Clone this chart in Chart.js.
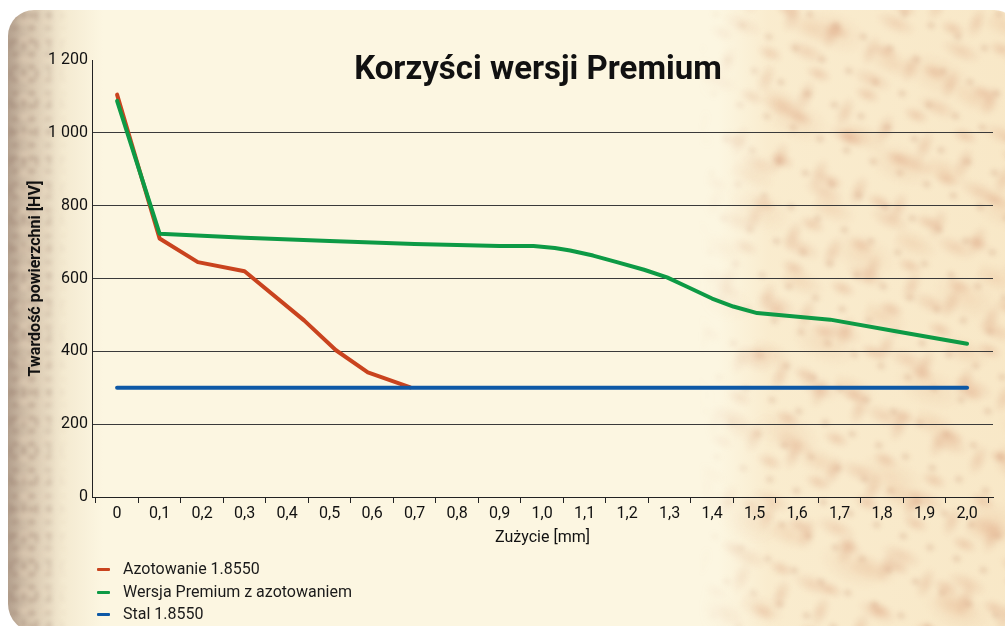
<!DOCTYPE html>
<html lang="pl">
<head>
<meta charset="utf-8">
<title>Korzyści wersji Premium</title>
<script src="https://cdn.jsdelivr.net/npm/chart.js@4.4.1/dist/chart.umd.min.js"></script>
<style>
  html, body { margin: 0; padding: 0; background: #ffffff; }
  body { width: 1005px; height: 626px; position: relative; overflow: hidden; font-family: Roboto, "DejaVu Sans", sans-serif; }
  .card {
    position: absolute; left: 8px; top: 10px; width: 1010px; height: 622px;
    border-radius: 26px 24px 0 28px; overflow: hidden;
    background-color: #fcf6e1;
    background-image:
      linear-gradient(to right, rgba(168,146,128,0.85) 0px, rgba(190,165,140,0.6) 22px, rgba(225,205,170,0.3) 55px, rgba(252,246,225,0) 95px),
      linear-gradient(to right, rgba(252,246,225,0) 710px, rgba(247,226,188,0.5) 760px, rgba(245,220,178,0.55) 1010px);
  }
  .texwrap {
    position: absolute; left: 690px; top: 0; width: 330px; height: 622px; overflow: hidden;
    -webkit-mask-image: linear-gradient(to right, transparent 0px, black 80px);
    mask-image: linear-gradient(to right, transparent 0px, black 80px);
  }
  .tex {
    position: absolute; left: -200px; top: -200px; width: 730px; height: 1020px;
    transform: rotate(23deg);
    filter: blur(2px);
    background-image:
      radial-gradient(ellipse 14px 8px at 30% 40%, rgba(215,150,115,0.34), transparent),
      radial-gradient(ellipse 22px 10px at 70% 20%, rgba(220,160,125,0.3), transparent),
      radial-gradient(ellipse 9px 17px at 50% 70%, rgba(210,145,110,0.28), transparent),
      radial-gradient(ellipse 28px 13px at 20% 80%, rgba(225,170,130,0.26), transparent),
      radial-gradient(ellipse 36px 20px at 60% 50%, rgba(225,170,130,0.2), transparent),
      radial-gradient(ellipse 6px 5px at 40% 60%, rgba(190,130,100,0.3), transparent);
    background-size: 53px 47px, 71px 61px, 43px 67px, 89px 79px, 113px 97px, 29px 37px;
    background-position: 0 0, 17px 29px, 31px 11px, 7px 41px, 45px 13px, 11px 5px;
  }
  .ltex {
    position: absolute; left: 0; top: 0; width: 60px; height: 622px;
    filter: blur(1.5px);
    background-image:
      radial-gradient(ellipse 6px 5px at 40% 40%, rgba(150,120,105,0.3), transparent),
      radial-gradient(ellipse 9px 6px at 70% 60%, rgba(235,215,190,0.4), transparent),
      radial-gradient(ellipse 5px 8px at 20% 20%, rgba(140,110,95,0.25), transparent);
    background-size: 17px 13px, 23px 19px, 13px 29px;
    -webkit-mask-image: linear-gradient(to right, black 0px, black 25px, transparent 60px);
    mask-image: linear-gradient(to right, black 0px, black 25px, transparent 60px);
  }
  .title {
    position: absolute; left: 238px; width: 600px; top: 51px;
    text-align: center; font-size: 33px; line-height: 1; font-weight: bold; color: #111;
  }
  #wrap { position: absolute; left: 0; top: 0; width: 1005px; height: 626px; }
  .legend { position: absolute; left: 97px; top: 558px; font-size: 16px; color: #1a1a1a; }
  .legend div { height: 22.5px; line-height: 22.5px; position: relative; padding-left: 26px; white-space: nowrap; }
  .legend span { position: absolute; left: 0; top: 10px; width: 13px; height: 3px; border-radius: 1px; }
</style>
</head>
<body>
<div class="card"><div class="ltex"></div><div class="texwrap"><div class="tex"></div></div></div>
<div id="wrap"><canvas id="chart"></canvas></div>
<div class="title">Korzyści wersji Premium</div>
<div class="legend" id="legend"></div>
<script>
// wear [mm] on the x axis, surface hardness [HV] on the y axis
const xTickValues = [0, 0.1, 0.2, 0.3, 0.4, 0.5, 0.6, 0.7, 0.8, 0.9, 1.0, 1.1, 1.2, 1.3, 1.4, 1.5, 1.6, 1.7, 1.8, 1.9, 2.0];
const xTickLabels = ["0", "0,1", "0,2", "0,3", "0,4", "0,5", "0,6", "0,7", "0,8", "0,9", "1,0",
  "1,1", "1,2", "1,3", "1,4", "1,5", "1,6", "1,7", "1,8", "1,9", "2,0"];
const yTickValues = [0, 200, 400, 600, 800, 1000, 1200];
const yTickLabels = ["0", "200", "400", "600", "800", "1 000", "1 200"];

const seriesNames = ["Azotowanie 1.8550", "Wersja Premium z azotowaniem", "Stal 1.8550"];
const seriesColors = ["#c9431e", "#0d9a45", "#0d58a6"];

const nitridedX = [0, 0.1, 0.19, 0.3, 0.44, 0.515, 0.59, 0.69];
const nitridedY = [1105, 710, 645, 620, 485, 403, 342, 301];

const premiumX = [0, 0.1, 0.3, 0.5, 0.7, 0.9, 0.98, 1.03, 1.066, 1.12, 1.176, 1.24, 1.294, 1.34, 1.4, 1.45, 1.506, 1.678, 1.842, 2.0];
const premiumY = [1088, 723, 712, 703, 695, 689, 689, 684, 677, 663, 645, 624, 603, 578, 545, 523, 505, 487, 453, 421];

const steelX = [0, 2.0];
const steelY = [300, 300];

function toPoints(xs, ys) {
  return xs.map((x, i) => ({ x: x, y: ys[i] }));
}

function initLegend() {
  const el = document.getElementById("legend");
  el.innerHTML = seriesNames
    .map((name, i) => `<div><span style="background:${seriesColors[i]}"></span>${name}</div>`)
    .join("");
}

function initChart() {
  const ctx = document.getElementById("chart");
  const axisColor = "#222222";
  const gridColor = "#3a3a3a";
  const tickFont = { family: "Roboto", size: 16 };

  const lineStyle = (i) => ({
    label: seriesNames[i],
    borderColor: seriesColors[i],
    backgroundColor: seriesColors[i],
    borderWidth: 4,
    pointRadius: 0,
    tension: 0,
    borderCapStyle: "round",
    borderJoinStyle: "round",
    fill: false,
  });

  new Chart(ctx, {
    type: "line",
    data: {
      datasets: [
        { ...lineStyle(0), data: toPoints(nitridedX, nitridedY), order: 3 },
        { ...lineStyle(1), data: toPoints(premiumX, premiumY), order: 2 },
        { ...lineStyle(2), data: toPoints(steelX, steelY), order: 1 },
      ],
    },
    options: {
      responsive: true,
      maintainAspectRatio: false,
      animation: false,
      layout: { padding: { left: 20, top: 60, right: 12, bottom: 74 } },
      plugins: {
        legend: { display: false },
        tooltip: { enabled: false },
      },
      scales: {
        x: {
          type: "linear",
          min: -0.059,
          max: 2.061,
          afterBuildTicks: (axis) => {
            axis.ticks = xTickValues.map((v) => ({ value: v }));
          },
          afterFit: (scale) => { scale.height = 55; },
          ticks: {
            autoSkip: false,
            maxRotation: 0,
            padding: 1,
            color: "#111",
            font: tickFont,
            callback: (value, index) => xTickLabels[index],
          },
          grid: {
            offset: true,
            drawOnChartArea: false,
            drawTicks: true,
            tickLength: 6,
            color: axisColor,
            lineWidth: 1,
          },
          border: { display: true, color: axisColor, width: 1 },
          title: {
            display: true,
            text: "Zużycie [mm]",
            color: "#111",
            font: { family: "Roboto", size: 16 },
            padding: { top: 0, bottom: 4 },
          },
        },
        y: {
          min: 0,
          max: 1200,
          afterBuildTicks: (axis) => {
            axis.ticks = yTickValues.map((v) => ({ value: v }));
          },
          afterFit: (scale) => { scale.width = 72; },
          ticks: {
            padding: 4,
            color: "#111",
            font: tickFont,
            callback: (value, index) => yTickLabels[index],
          },
          grid: {
            drawTicks: false,
            color: (c) => (c.tick && (c.tick.value === 0 || c.tick.value === 1200) ? "rgba(0,0,0,0)" : gridColor),
            lineWidth: 1,
          },
          border: { display: true, color: axisColor, width: 1 },
          title: {
            display: true,
            text: "Twardość powierzchni [HV]",
            color: "#111",
            font: { family: "Roboto", size: 16, weight: "bold" },
            padding: { top: 6, bottom: 4 },
          },
        },
      },
    },
  });
}

document.addEventListener("DOMContentLoaded", () => {
  initLegend();
  initChart();
});
</script>
</body>
</html>
